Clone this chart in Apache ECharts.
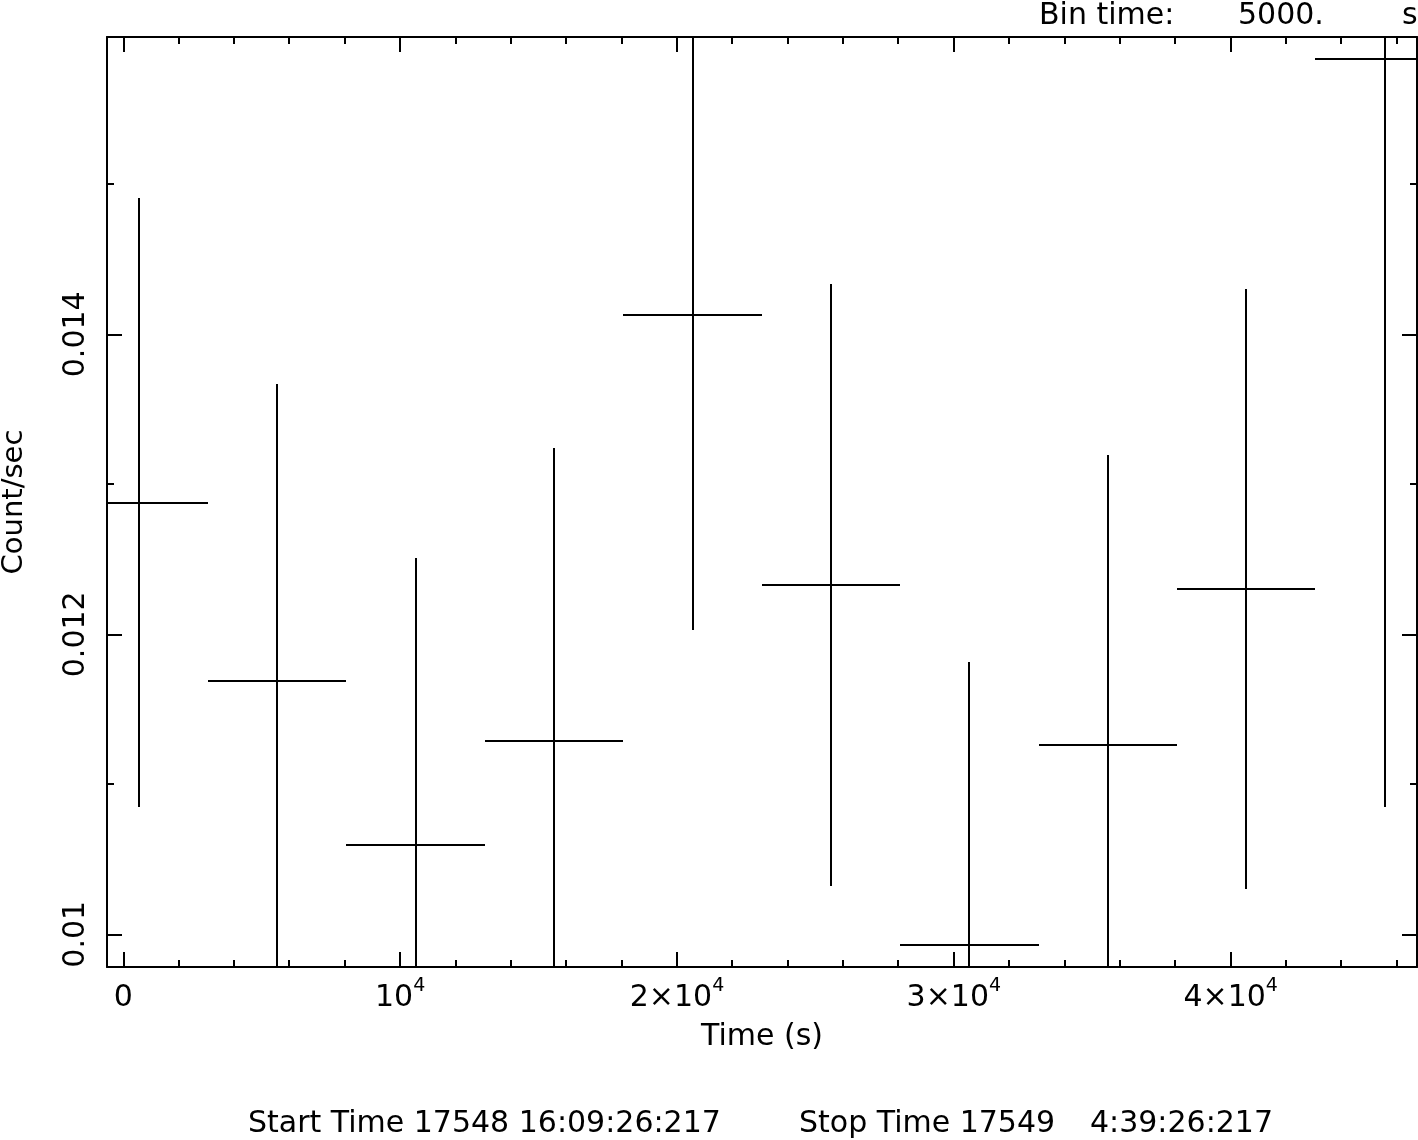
<!DOCTYPE html>
<html>
<head>
<meta charset="utf-8">
<title>Light curve</title>
<script src="https://cdn.jsdelivr.net/npm/echarts@6/dist/echarts.min.js"></script>
<style>
  html, body { margin: 0; padding: 0; background: #ffffff; }
  #chart { width: 1418px; height: 1140px; }
</style>
</head>
<body>
<div id="chart"></div>
<script>
  // bin centre (s), half bin width (s), rate and 1-sigma error (count/sec)
  var binTimes = [560, 5560, 10560, 15560, 20560, 25560, 30560, 35560, 40560, 45560];
  var binHalfWidths = [2500, 2500, 2500, 2500, 2500, 2500, 2500, 2500, 2500, 2500];
  var rates = [0.012877, 0.011691, 0.010595, 0.011288, 0.014131, 0.012329, 0.009929, 0.011264, 0.0123, 0.015835];
  var rateErrors = [0.00203, 0.001978, 0.001913, 0.001953, 0.002102, 0.002007, 0.001885, 0.001931, 0.002, 0.004987];

  var xMajorTicks = [0, 10000, 20000, 30000, 40000];
  var xMinorTicks = [2000, 4000, 6000, 8000, 12000, 14000, 16000, 18000, 22000, 24000,
                     26000, 28000, 32000, 34000, 36000, 38000, 42000, 44000, 46000];
  var yMajorTicks = [0.01, 0.012, 0.014];
  var yMinorTicks = [0.011, 0.013, 0.015];

  var X_MIN = -589, X_MAX = 46729;
  var Y_MIN = 0.009782, Y_MAX = 0.015982;

  var FONT = 'DejaVu Sans';
  var INK = '#000000';

  var chart = echarts.init(document.getElementById('chart'));

  function fmtX(v) {
    if (v === 0) return '{m|0}';
    var k = Math.round(v / 10000);
    if (k === 1) return '{m|10}{s|4}';
    return '{m|' + k + '\u00d710}{s|4}';
  }

  var xRich = {
    m: { fontFamily: FONT, fontSize: 30, lineHeight: 36, color: INK, verticalAlign: 'bottom' },
    s: { fontFamily: FONT, fontSize: 19, lineHeight: 19, color: INK, verticalAlign: 'top' }
  };

  function clampX(v) { return Math.max(X_MIN, Math.min(X_MAX, v)); }
  function clampY(v) { return Math.max(Y_MIN, Math.min(Y_MAX, v)); }
  function px(p) { return [Math.round(p[0]), Math.round(p[1])]; }

  // one cross per bin: horizontal = bin width, vertical = error bar
  function renderCross(params, api) {
    var t = api.value(0), r = api.value(1), hw = api.value(2), err = api.value(3);
    var kids = [];
    var st = { stroke: INK, lineWidth: 2 };
    if (r >= Y_MIN && r <= Y_MAX) {
      var a = px(api.coord([clampX(t - hw), r]));
      var b = px(api.coord([clampX(t + hw), r]));
      kids.push({ type: 'line', shape: { x1: a[0], y1: a[1], x2: b[0], y2: b[1] }, style: st });
    }
    var c = px(api.coord([t, clampY(r - err)]));
    var d = px(api.coord([t, clampY(r + err)]));
    kids.push({ type: 'line', shape: { x1: c[0], y1: c[1], x2: d[0], y2: d[1] }, style: st });
    return { type: 'group', children: kids };
  }

  // minor ticks on bottom/top and left/right, pointing inwards
  function renderXMinor(params, api) {
    var cs = params.coordSys;
    var p = px(api.coord([api.value(0), Y_MIN]));
    var st = { stroke: INK, lineWidth: 2 };
    return { type: 'group', children: [
      { type: 'line', shape: { x1: p[0], y1: cs.y + cs.height, x2: p[0], y2: cs.y + cs.height - 7 }, style: st },
      { type: 'line', shape: { x1: p[0], y1: cs.y, x2: p[0], y2: cs.y + 7 }, style: st }
    ] };
  }
  function renderYMinor(params, api) {
    var cs = params.coordSys;
    var p = px(api.coord([X_MIN, api.value(1)]));
    var st = { stroke: INK, lineWidth: 2 };
    return { type: 'group', children: [
      { type: 'line', shape: { x1: cs.x, y1: p[1], x2: cs.x + 7, y2: p[1] }, style: st },
      { type: 'line', shape: { x1: cs.x + cs.width, y1: p[1], x2: cs.x + cs.width - 7, y2: p[1] }, style: st }
    ] };
  }

  var crossData = [];
  for (var i = 0; i < binTimes.length; i++) {
    crossData.push([binTimes[i], rates[i], binHalfWidths[i], rateErrors[i]]);
  }

  var axisLineStyle = { color: INK, width: 2 };

  var option = {
    backgroundColor: '#ffffff',
    animation: false,
    grid: { left: 107, right: 1, top: 37, bottom: 173, containLabel: false, outerBoundsMode: 'none' },
    xAxis: [
      {
        type: 'value', position: 'bottom', min: X_MIN, max: X_MAX,
        axisLine: { show: true, onZero: false, lineStyle: axisLineStyle },
        axisTick: { show: true, inside: true, length: 15, customValues: xMajorTicks, lineStyle: axisLineStyle },
        axisLabel: { customValues: xMajorTicks, formatter: fmtX, margin: 10, rich: xRich, color: INK },
        splitLine: { show: false },
        name: 'Time (s)', nameLocation: 'middle', nameGap: 55,
        nameTextStyle: { fontFamily: FONT, fontSize: 30, color: INK }
      },
      {
        type: 'value', position: 'top', min: X_MIN, max: X_MAX,
        axisLine: { show: true, onZero: false, lineStyle: axisLineStyle },
        axisTick: { show: true, inside: true, length: 15, customValues: xMajorTicks, lineStyle: axisLineStyle },
        axisLabel: { show: false },
        splitLine: { show: false }
      }
    ],
    yAxis: [
      {
        type: 'value', position: 'left', min: Y_MIN, max: Y_MAX,
        axisLine: { show: true, onZero: false, lineStyle: axisLineStyle },
        axisTick: { show: true, inside: true, length: 15, customValues: yMajorTicks, lineStyle: axisLineStyle },
        axisLabel: { customValues: yMajorTicks, rotate: 90, margin: 16, fontFamily: FONT, fontSize: 30, color: INK },
        splitLine: { show: false },
        name: 'Count/sec', nameLocation: 'middle', nameRotate: 90, nameGap: 78,
        nameTextStyle: { fontFamily: FONT, fontSize: 29, color: INK }
      },
      {
        type: 'value', position: 'right', min: Y_MIN, max: Y_MAX,
        axisLine: { show: true, onZero: false, lineStyle: axisLineStyle },
        axisTick: { show: true, inside: true, length: 15, customValues: yMajorTicks, lineStyle: axisLineStyle },
        axisLabel: { show: false },
        splitLine: { show: false }
      }
    ],
    graphic: [
      { type: 'text', left: 1039, top: 1, style: { text: 'Bin time:', fontFamily: FONT, fontSize: 30, fill: INK } },
      { type: 'text', left: 1238, top: 1, style: { text: '5000.', fontFamily: FONT, fontSize: 30, fill: INK } },
      { type: 'text', left: 1402, top: 1, style: { text: 's', fontFamily: FONT, fontSize: 30, fill: INK } },
      { type: 'text', left: 248, top: 1109, style: { text: 'Start Time 17548 16:09:26:217', fontFamily: FONT, fontSize: 30, fill: INK } },
      { type: 'text', left: 799, top: 1109, style: { text: 'Stop Time 17549', fontFamily: FONT, fontSize: 30, fill: INK } },
      { type: 'text', left: 1090, top: 1109, style: { text: '4:39:26:217', fontFamily: FONT, fontSize: 30, fill: INK } }
    ],
    series: [
      { type: 'custom', name: 'rate', renderItem: renderCross, data: crossData, silent: true },
      { type: 'custom', name: 'xminor', renderItem: renderXMinor,
        data: xMinorTicks.map(function (v) { return [v, Y_MIN]; }), silent: true },
      { type: 'custom', name: 'yminor', renderItem: renderYMinor,
        data: yMinorTicks.map(function (v) { return [X_MIN, v]; }), silent: true }
    ]
  };

  chart.setOption(option);
  window.addEventListener('resize', function () { chart.resize(); });
</script>
</body>
</html>
